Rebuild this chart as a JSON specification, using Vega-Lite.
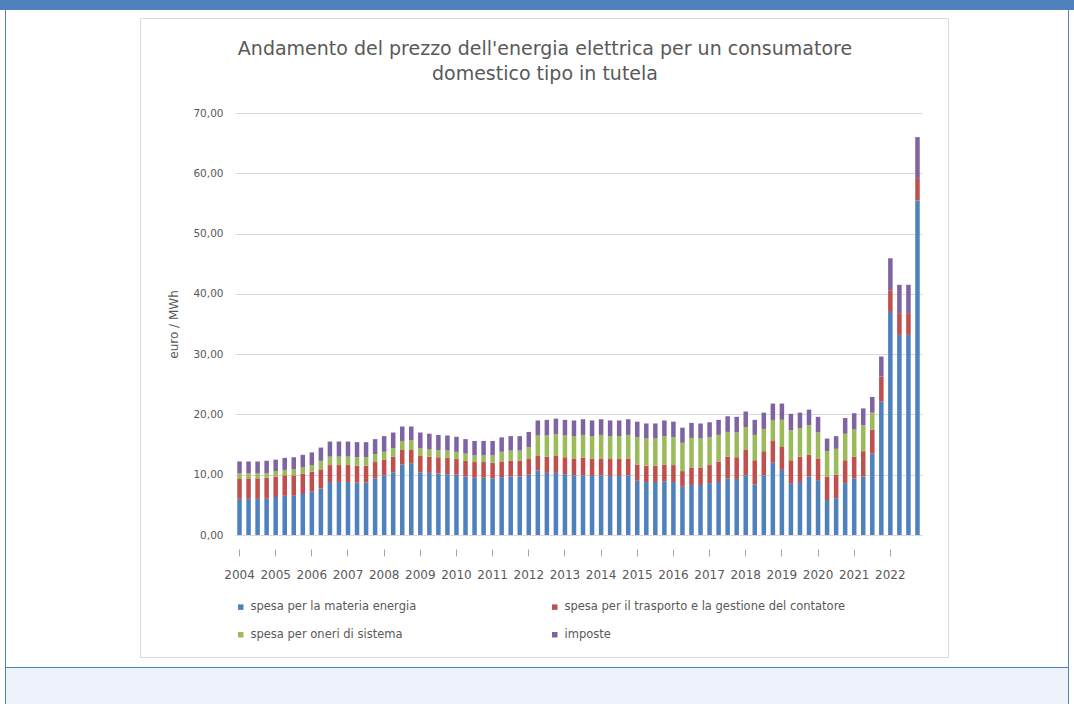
{
  "$schema": "https://vega.github.io/schema/vega-lite/v6.json",
  "background": "#ffffff",
  "padding": 0,
  "bounds": "flush",
  "config": {
    "view": {"stroke": null},
    "concat": {"spacing": 0},
    "font": "DejaVu Sans"
  },
  "resolve": {"scale": {"color": "independent"}, "legend": {"color": "independent"}},
  "vconcat": [
    {
      "width": 1074, "height": 10,
      "view": {"fill": "#4f81bd", "stroke": null},
      "data": {"values": []},
      "mark": "point"
    },
    {
      "bounds": "flush",
      "resolve": {"scale": {"color": "independent"}, "legend": {"color": "independent"}},
      "hconcat": [
        {
          "bounds": "flush",
          "resolve": {"scale": {"color": "independent"}, "legend": {"color": "independent"}},
          "vconcat": [
            {"width": 1074, "height": 8, "view": {"fill": null, "stroke": null}, "data": {"values": []}, "mark": "point"},
            {
              "bounds": "flush",
              "hconcat": [
                {"width": 140, "height": 639, "view": {"fill": null, "stroke": null}, "data": {"values": []}, "mark": "point"},
                {"width": 808, "height": 639, "view": {"fill": null, "stroke": "#dadada", "strokeWidth": 1}, "data": {"values": []}, "mark": "point"}
              ]
            },
            {"width": 1074, "height": 95, "view": {"fill": null, "stroke": null}, "data": {"values": []}, "mark": "point"},
            {
              "bounds": "flush",
              "resolve": {"scale": {"color": "independent"}, "legend": {"color": "independent"}},
              "hconcat": [
                {"width": 235, "height": 422, "view": {"fill": null, "stroke": null}, "data": {"values": []}, "mark": "point"},
                {
                  "width": 687,
                  "height": 422,
                  "title": {
                    "text": ["Andamento del prezzo dell'energia elettrica per un consumatore", "domestico tipo in tutela"],
                    "font": "DejaVu Sans",
                    "fontSize": 19,
                    "fontWeight": "normal",
                    "color": "#595959",
                    "lineHeight": 25,
                    "anchor": "middle",
                    "frame": "bounds",
                    "offset": 24
                  },
                  "data": {
                    "values": [
                      {"trimestre": "2004 T1", "energia": 6.0, "trasporto": 3.4, "oneri": 0.8, "imposte": 2.0},
                      {"trimestre": "2004 T2", "energia": 6.0, "trasporto": 3.4, "oneri": 0.8, "imposte": 2.0},
                      {"trimestre": "2004 T3", "energia": 6.0, "trasporto": 3.4, "oneri": 0.8, "imposte": 2.0},
                      {"trimestre": "2004 T4", "energia": 6.0, "trasporto": 3.5, "oneri": 0.8, "imposte": 2.0},
                      {"trimestre": "2005 T1", "energia": 6.3, "trasporto": 3.4, "oneri": 0.9, "imposte": 1.9},
                      {"trimestre": "2005 T2", "energia": 6.5, "trasporto": 3.4, "oneri": 0.9, "imposte": 2.0},
                      {"trimestre": "2005 T3", "energia": 6.5, "trasporto": 3.4, "oneri": 1.0, "imposte": 2.0},
                      {"trimestre": "2005 T4", "energia": 6.8, "trasporto": 3.4, "oneri": 1.0, "imposte": 2.1},
                      {"trimestre": "2006 T1", "energia": 7.2, "trasporto": 3.3, "oneri": 1.1, "imposte": 2.1},
                      {"trimestre": "2006 T2", "energia": 7.7, "trasporto": 3.2, "oneri": 1.4, "imposte": 2.2},
                      {"trimestre": "2006 T3", "energia": 8.8, "trasporto": 2.8, "oneri": 1.4, "imposte": 2.5},
                      {"trimestre": "2006 T4", "energia": 8.8, "trasporto": 2.8, "oneri": 1.4, "imposte": 2.5},
                      {"trimestre": "2007 T1", "energia": 8.8, "trasporto": 2.8, "oneri": 1.4, "imposte": 2.5},
                      {"trimestre": "2007 T2", "energia": 8.7, "trasporto": 2.8, "oneri": 1.4, "imposte": 2.5},
                      {"trimestre": "2007 T3", "energia": 8.7, "trasporto": 2.8, "oneri": 1.4, "imposte": 2.5},
                      {"trimestre": "2007 T4", "energia": 9.4, "trasporto": 2.7, "oneri": 1.3, "imposte": 2.5},
                      {"trimestre": "2008 T1", "energia": 9.9, "trasporto": 2.6, "oneri": 1.3, "imposte": 2.6},
                      {"trimestre": "2008 T2", "energia": 10.4, "trasporto": 2.6, "oneri": 1.4, "imposte": 2.6},
                      {"trimestre": "2008 T3", "energia": 11.7, "trasporto": 2.4, "oneri": 1.5, "imposte": 2.4},
                      {"trimestre": "2008 T4", "energia": 11.9, "trasporto": 2.2, "oneri": 1.6, "imposte": 2.3},
                      {"trimestre": "2009 T1", "energia": 10.4, "trasporto": 2.7, "oneri": 1.3, "imposte": 2.6},
                      {"trimestre": "2009 T2", "energia": 10.3, "trasporto": 2.7, "oneri": 1.2, "imposte": 2.6},
                      {"trimestre": "2009 T3", "energia": 10.2, "trasporto": 2.7, "oneri": 1.2, "imposte": 2.5},
                      {"trimestre": "2009 T4", "energia": 10.1, "trasporto": 2.7, "oneri": 1.2, "imposte": 2.5},
                      {"trimestre": "2010 T1", "energia": 10.0, "trasporto": 2.6, "oneri": 1.2, "imposte": 2.5},
                      {"trimestre": "2010 T2", "energia": 9.7, "trasporto": 2.6, "oneri": 1.2, "imposte": 2.4},
                      {"trimestre": "2010 T3", "energia": 9.5, "trasporto": 2.6, "oneri": 1.1, "imposte": 2.4},
                      {"trimestre": "2010 T4", "energia": 9.5, "trasporto": 2.6, "oneri": 1.1, "imposte": 2.4},
                      {"trimestre": "2011 T1", "energia": 9.4, "trasporto": 2.6, "oneri": 1.2, "imposte": 2.4},
                      {"trimestre": "2011 T2", "energia": 9.6, "trasporto": 2.6, "oneri": 1.6, "imposte": 2.4},
                      {"trimestre": "2011 T3", "energia": 9.7, "trasporto": 2.6, "oneri": 1.7, "imposte": 2.4},
                      {"trimestre": "2011 T4", "energia": 9.7, "trasporto": 2.6, "oneri": 1.7, "imposte": 2.4},
                      {"trimestre": "2012 T1", "energia": 10.0, "trasporto": 2.6, "oneri": 2.0, "imposte": 2.5},
                      {"trimestre": "2012 T2", "energia": 10.7, "trasporto": 2.4, "oneri": 3.4, "imposte": 2.5},
                      {"trimestre": "2012 T3", "energia": 10.3, "trasporto": 2.7, "oneri": 3.5, "imposte": 2.6},
                      {"trimestre": "2012 T4", "energia": 10.3, "trasporto": 2.8, "oneri": 3.6, "imposte": 2.6},
                      {"trimestre": "2013 T1", "energia": 10.1, "trasporto": 2.8, "oneri": 3.6, "imposte": 2.6},
                      {"trimestre": "2013 T2", "energia": 9.9, "trasporto": 2.8, "oneri": 3.7, "imposte": 2.6},
                      {"trimestre": "2013 T3", "energia": 9.9, "trasporto": 2.9, "oneri": 3.8, "imposte": 2.6},
                      {"trimestre": "2013 T4", "energia": 9.8, "trasporto": 2.9, "oneri": 3.7, "imposte": 2.6},
                      {"trimestre": "2014 T1", "energia": 9.9, "trasporto": 2.8, "oneri": 3.9, "imposte": 2.6},
                      {"trimestre": "2014 T2", "energia": 9.8, "trasporto": 2.8, "oneri": 3.8, "imposte": 2.6},
                      {"trimestre": "2014 T3", "energia": 9.8, "trasporto": 2.8, "oneri": 3.8, "imposte": 2.6},
                      {"trimestre": "2014 T4", "energia": 9.9, "trasporto": 2.8, "oneri": 3.9, "imposte": 2.6},
                      {"trimestre": "2015 T1", "energia": 9.0, "trasporto": 2.7, "oneri": 4.5, "imposte": 2.6},
                      {"trimestre": "2015 T2", "energia": 8.8, "trasporto": 2.7, "oneri": 4.5, "imposte": 2.5},
                      {"trimestre": "2015 T3", "energia": 8.8, "trasporto": 2.7, "oneri": 4.5, "imposte": 2.5},
                      {"trimestre": "2015 T4", "energia": 8.9, "trasporto": 2.8, "oneri": 4.7, "imposte": 2.6},
                      {"trimestre": "2016 T1", "energia": 8.8, "trasporto": 2.8, "oneri": 4.6, "imposte": 2.6},
                      {"trimestre": "2016 T2", "energia": 8.0, "trasporto": 2.6, "oneri": 4.7, "imposte": 2.5},
                      {"trimestre": "2016 T3", "energia": 8.3, "trasporto": 2.9, "oneri": 4.9, "imposte": 2.5},
                      {"trimestre": "2016 T4", "energia": 8.3, "trasporto": 2.9, "oneri": 4.8, "imposte": 2.5},
                      {"trimestre": "2017 T1", "energia": 8.6, "trasporto": 3.0, "oneri": 4.6, "imposte": 2.5},
                      {"trimestre": "2017 T2", "energia": 8.8, "trasporto": 3.4, "oneri": 4.4, "imposte": 2.5},
                      {"trimestre": "2017 T3", "energia": 9.4, "trasporto": 3.6, "oneri": 4.1, "imposte": 2.6},
                      {"trimestre": "2017 T4", "energia": 9.3, "trasporto": 3.6, "oneri": 4.1, "imposte": 2.6},
                      {"trimestre": "2018 T1", "energia": 9.9, "trasporto": 4.2, "oneri": 3.8, "imposte": 2.6},
                      {"trimestre": "2018 T2", "energia": 8.4, "trasporto": 4.0, "oneri": 4.2, "imposte": 2.5},
                      {"trimestre": "2018 T3", "energia": 9.9, "trasporto": 4.0, "oneri": 3.7, "imposte": 2.7},
                      {"trimestre": "2018 T4", "energia": 12.0, "trasporto": 3.7, "oneri": 3.3, "imposte": 2.8},
                      {"trimestre": "2019 T1", "energia": 10.8, "trasporto": 3.8, "oneri": 4.5, "imposte": 2.7},
                      {"trimestre": "2019 T2", "energia": 8.6, "trasporto": 3.8, "oneri": 5.0, "imposte": 2.7},
                      {"trimestre": "2019 T3", "energia": 8.8, "trasporto": 4.2, "oneri": 4.7, "imposte": 2.6},
                      {"trimestre": "2019 T4", "energia": 9.7, "trasporto": 3.6, "oneri": 4.9, "imposte": 2.6},
                      {"trimestre": "2020 T1", "energia": 9.1, "trasporto": 3.6, "oneri": 4.3, "imposte": 2.6},
                      {"trimestre": "2020 T2", "energia": 5.8, "trasporto": 3.9, "oneri": 4.2, "imposte": 2.1},
                      {"trimestre": "2020 T3", "energia": 6.1, "trasporto": 3.9, "oneri": 4.3, "imposte": 2.1},
                      {"trimestre": "2020 T4", "energia": 8.6, "trasporto": 3.8, "oneri": 4.4, "imposte": 2.6},
                      {"trimestre": "2021 T1", "energia": 9.4, "trasporto": 3.6, "oneri": 4.5, "imposte": 2.7},
                      {"trimestre": "2021 T2", "energia": 9.7, "trasporto": 4.2, "oneri": 4.3, "imposte": 2.8},
                      {"trimestre": "2021 T3", "energia": 13.5, "trasporto": 4.0, "oneri": 2.8, "imposte": 2.6},
                      {"trimestre": "2021 T4", "energia": 22.1, "trasporto": 4.2, "oneri": 0.0, "imposte": 3.3},
                      {"trimestre": "2022 T1", "energia": 37.0, "trasporto": 3.6, "oneri": 0.0, "imposte": 5.3},
                      {"trimestre": "2022 T2", "energia": 33.2, "trasporto": 3.6, "oneri": 0.0, "imposte": 4.7},
                      {"trimestre": "2022 T3", "energia": 33.2, "trasporto": 3.6, "oneri": 0.0, "imposte": 4.7},
                      {"trimestre": "2022 T4", "energia": 55.5, "trasporto": 3.7, "oneri": 0.0, "imposte": 6.8}
                    ]
                  },
                  "transform": [
                    {"fold": ["energia", "trasporto", "oneri", "imposte"], "as": ["componente", "valore"]},
                    {
                      "lookup": "componente",
                      "from": {
                        "data": {
                          "values": [
                            {"componente": "energia", "voce": "spesa per la materia energia", "ordine": 1},
                            {"componente": "trasporto", "voce": "spesa per il trasporto e la gestione del contatore", "ordine": 2},
                            {"componente": "oneri", "voce": "spesa per oneri di sistema", "ordine": 3},
                            {"componente": "imposte", "voce": "imposte", "ordine": 4}
                          ]
                        },
                        "key": "componente",
                        "fields": ["voce", "ordine"]
                      }
                    }
                  ],
                  "mark": {"type": "bar"},
                  "encoding": {
                    "x": {
                      "field": "trimestre",
                      "type": "ordinal",
                      "sort": null,
                      "scale": {"paddingInner": 0.5, "paddingOuter": 0.25},
                      "axis": {
                        "title": null,
                        "values": ["2004 T1", "2005 T1", "2006 T1", "2007 T1", "2008 T1", "2009 T1", "2010 T1", "2011 T1", "2012 T1", "2013 T1", "2014 T1", "2015 T1", "2016 T1", "2017 T1", "2018 T1", "2019 T1", "2020 T1", "2021 T1", "2022 T1"],
                        "labelExpr": "substring(datum.value, 0, 4)",
                        "labelAngle": 0,
                        "bandPosition": 0.5,
                        "domain": false,
                        "grid": false,
                        "ticks": true,
                        "tickColor": "#a6a6a6",
                        "tickSize": 7,
                        "offset": 14,
                        "labelPadding": 13,
                        "labelFont": "DejaVu Sans",
                        "labelFontSize": 12,
                        "labelColor": "#595959"
                      }
                    },
                    "y": {
                      "field": "valore",
                      "type": "quantitative",
                      "stack": "zero",
                      "scale": {"domain": [0, 70], "nice": false},
                      "axis": {
                        "title": "euro / MWh",
                        "titleFont": "DejaVu Sans",
                        "titleFontSize": 12,
                        "titleFontWeight": "normal",
                        "titleColor": "#595959",
                        "titlePadding": 12,
                        "values": [0, 10, 20, 30, 40, 50, 60, 70],
                        "labelExpr": "replace(format(datum.value, '.2f'), '.', ',')",
                        "labelFont": "DejaVu Sans",
                        "labelFontSize": 10.5,
                        "labelColor": "#595959",
                        "labelPadding": 12,
                        "domain": false,
                        "ticks": false,
                        "gridColor": "#d9d9d9",
                        "gridWidth": 1
                      }
                    },
                    "color": {
                      "field": "voce",
                      "type": "nominal",
                      "scale": {
                        "domain": ["spesa per la materia energia", "spesa per il trasporto e la gestione del contatore", "spesa per oneri di sistema", "imposte"],
                        "range": ["#4f81bd", "#c0504d", "#9bbb59", "#8064a2"]
                      },
                      "legend": {
                        "title": null,
                        "orient": "bottom",
                        "direction": "horizontal",
                        "columns": 2,
                        "symbolType": "square",
                        "symbolSize": 30,
                        "symbolStrokeWidth": 0,
                        "labelFont": "DejaVu Sans",
                        "labelFontSize": 11.5,
                        "labelColor": "#595959",
                        "labelLimit": 400,
                        "columnPadding": 132,
                        "rowPadding": 15,
                        "offset": 21
                      }
                    },
                    "order": {"field": "ordine", "type": "quantitative"}
                  }
                },
                {"width": 152, "height": 422, "view": {"fill": null, "stroke": null}, "data": {"values": []}, "mark": "point"}
              ]
            },
            {"width": 1074, "height": 554, "view": {"fill": null, "stroke": null}, "data": {"values": []}, "mark": "point"},
            {"width": 1074, "height": 1, "view": {"fill": "#4f81bd", "stroke": null}, "data": {"values": []}, "mark": "point"},
            {"width": 1074, "height": 36, "view": {"fill": "#eef3fb", "stroke": null}, "data": {"values": []}, "mark": "point"}
          ]
        },
        {"width": 5, "height": 694, "view": {"fill": "#ffffff", "stroke": null}, "data": {"values": []}, "mark": "point"},
        {"width": 1, "height": 694, "view": {"fill": "#4f81bd", "stroke": null}, "data": {"values": []}, "mark": "point"},
        {"width": 1062, "height": 694, "view": {"fill": null, "stroke": null}, "data": {"values": []}, "mark": "point"},
        {"width": 1, "height": 694, "view": {"fill": "#4f81bd", "stroke": null}, "data": {"values": []}, "mark": "point"},
        {"width": 5, "height": 694, "view": {"fill": "#ffffff", "stroke": null}, "data": {"values": []}, "mark": "point"}
      ]
    }
  ]
}
